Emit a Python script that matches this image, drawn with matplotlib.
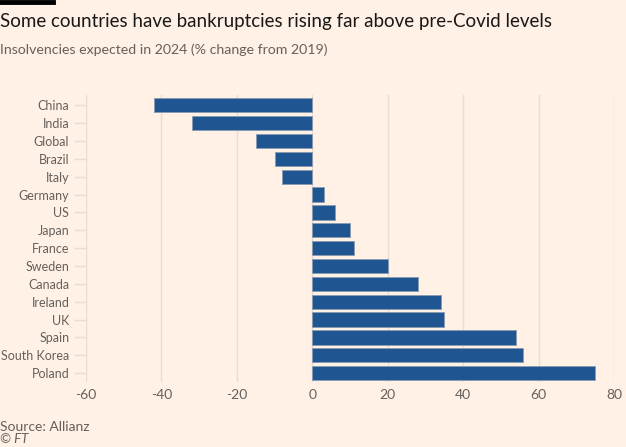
import matplotlib.pyplot as plt
import matplotlib.lines as mlines

# Données
pays = ["China", "India", "Global", "Brazil", "Italy", "Germany", "US", "Japan",
        "France", "Sweden", "Canada", "Ireland", "UK", "Spain", "South Korea", "Poland"]
variation = [-42, -32, -15, -10, -8, 3, 6, 10, 11, 20, 28, 34, 35, 54, 56, 75]
graduations = [-60, -40, -20, 0, 20, 40, 60, 80]

fond = "#fff1e5"
bleu = "#1f5591"
gris = "#66605c"

plt.rcParams["font.family"] = ["Lato", "DejaVu Sans"]

fig = plt.figure(figsize=(6.26, 4.47), dpi=100, facecolor=fond)
ax = fig.add_axes([86/626, 1 - 382/447, (614 - 86)/626, (382 - 95)/447])
ax.set_facecolor(fond)

y = range(len(pays))
ax.barh(y, variation, height=0.8, color=bleu, edgecolor="#8a9bb0", linewidth=0.6, zorder=3)

ax.set_xlim(-60, 80)
ax.set_ylim(len(pays) - 0.5, -0.58)
ax.set_xticks(graduations)
ax.set_xticklabels([str(g) for g in graduations])
ax.set_yticks(list(y))
ax.set_yticklabels(pays)

ax.grid(axis="x", color="#e9dcd3", linewidth=1, zorder=0)
for s in ax.spines.values():
    s.set_visible(False)
ax.tick_params(axis="x", length=0, pad=5, labelsize=10, labelcolor=gris)
ax.tick_params(axis="y", length=9, width=1, color="#e9dcd3", pad=3, labelsize=9, labelcolor=gris)

# Titres
fig.add_artist(mlines.Line2D([0, 53/626], [1 - 2/447, 1 - 2/447], color="black", linewidth=3.5))
fig.text(0, 1 - 22/447, "Some countries have bankruptcies rising far above pre-Covid levels",
         fontsize=13.5, color="#1a1817", va="center", ha="left")
fig.text(0, 1 - 50/447, "Insolvencies expected in 2024 (% change from 2019)",
         fontsize=10.2, color=gris, va="center", ha="left")
fig.text(0, 1 - 427/447, "Source: Allianz", fontsize=10, color=gris, va="center", ha="left")
fig.text(0, 1 - 439/447, "© FT", fontsize=9.5, color=gris, va="center", ha="left", style="italic")

fig.savefig("out.png", dpi=100, facecolor=fond)
